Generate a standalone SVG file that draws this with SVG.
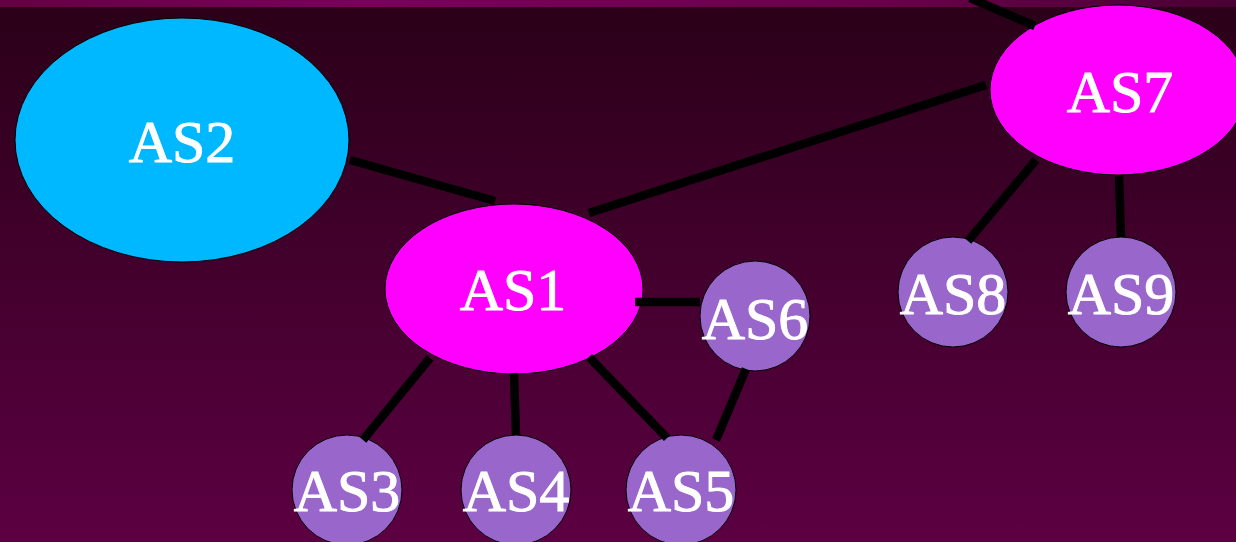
<svg xmlns="http://www.w3.org/2000/svg" width="1236" height="542" viewBox="0 0 1236 542">
<defs>
<linearGradient id="bg" x1="0" y1="0" x2="0" y2="1">
<stop offset="0" stop-color="#2a0018"/>
<stop offset="1" stop-color="#5c0042"/>
</linearGradient>
<linearGradient id="band" x1="0" y1="0" x2="1" y2="0">
<stop offset="0" stop-color="#640044"/>
<stop offset="0.3" stop-color="#7a005c"/>
<stop offset="0.7" stop-color="#6a004c"/>
<stop offset="1" stop-color="#4a0034"/>
</linearGradient>
<style>
.sm{fill:#9966cc;stroke:#000;stroke-width:1}
.mg{fill:#ff00ff;stroke:#000;stroke-width:1}
.cy{fill:#00b8ff;stroke:#000;stroke-width:1}
.t{font-size:60px;fill:#fff;stroke:#fff;stroke-width:0.9;text-anchor:middle}
.e line{stroke:#000;stroke-width:8.5}
</style>
</defs>
<rect x="0" y="0" width="1236" height="542" fill="url(#bg)"/>
<rect x="0" y="0" width="1236" height="7" fill="url(#band)"/>
<g id="AS2"><ellipse class="cy" cx="182" cy="140" rx="167" ry="122"/><text class="t" font-family="Liberation Serif, Times New Roman, serif" x="182" y="162">AS2</text></g>
<g id="AS1"><ellipse class="mg" cx="514" cy="289" rx="129" ry="85"/><text class="t" font-family="Liberation Serif, Times New Roman, serif" x="513" y="310">AS1</text></g>
<g id="AS7"><ellipse class="mg" cx="1118" cy="90" rx="128" ry="85"/><text class="t" font-family="Liberation Serif, Times New Roman, serif" x="1120" y="112">AS7</text></g>
<g id="AS6"><circle class="sm" cx="755" cy="316" r="55"/><text class="t" font-family="Liberation Serif, Times New Roman, serif" x="755" y="339">AS6</text></g>
<g id="AS8"><circle class="sm" cx="953" cy="292" r="55"/><text class="t" font-family="Liberation Serif, Times New Roman, serif" x="953" y="314">AS8</text></g>
<g id="AS9"><circle class="sm" cx="1121" cy="292" r="55"/><text class="t" font-family="Liberation Serif, Times New Roman, serif" x="1121" y="314">AS9</text></g>
<g id="AS3"><circle class="sm" cx="347" cy="490" r="55"/><text class="t" font-family="Liberation Serif, Times New Roman, serif" x="347" y="511">AS3</text></g>
<g id="AS4"><circle class="sm" cx="516" cy="490" r="55"/><text class="t" font-family="Liberation Serif, Times New Roman, serif" x="516" y="511">AS4</text></g>
<g id="AS5"><circle class="sm" cx="681" cy="490" r="55"/><text class="t" font-family="Liberation Serif, Times New Roman, serif" x="681" y="511">AS5</text></g>
<g id="connectors" class="e">
<line x1="350" y1="160" x2="495" y2="201"/>
<line x1="589" y1="213" x2="986" y2="85"/>
<line x1="970" y1="-2" x2="1035" y2="26"/>
<line x1="1036" y1="160" x2="968" y2="241"/>
<line x1="1119" y1="175" x2="1121" y2="237"/>
<line x1="635" y1="302" x2="700" y2="302"/>
<line x1="746" y1="369" x2="716" y2="440"/>
<line x1="430" y1="358" x2="363" y2="440"/>
<line x1="514" y1="373" x2="516" y2="435"/>
<line x1="589" y1="357" x2="667" y2="438"/>
</g>
</svg>
